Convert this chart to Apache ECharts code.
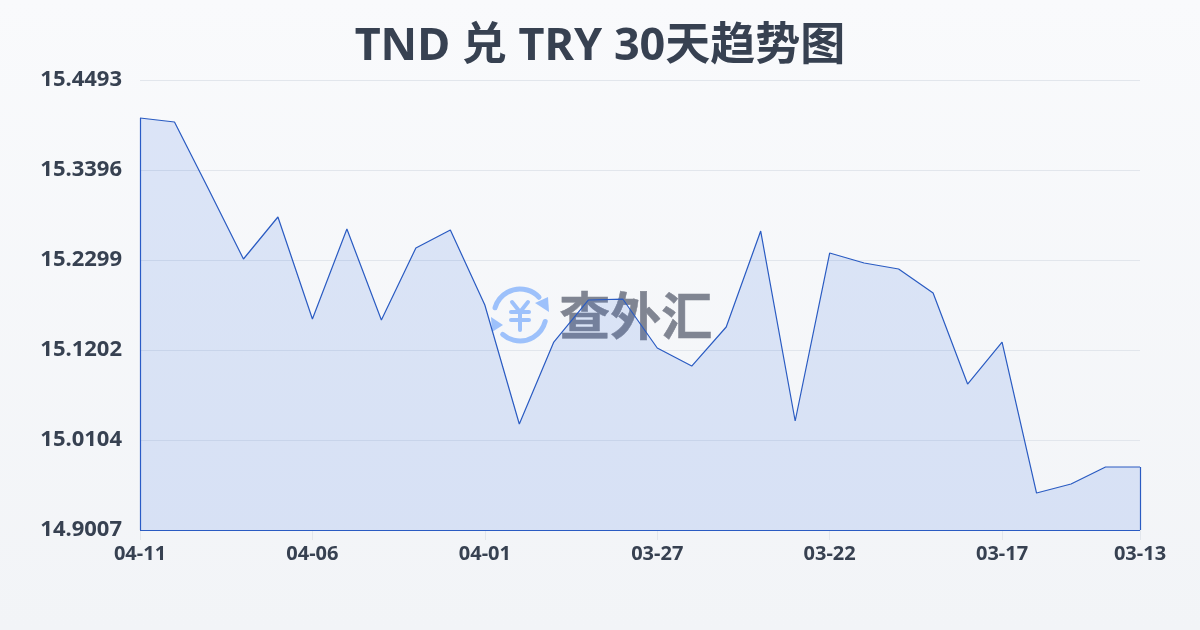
<!DOCTYPE html>
<html><head><meta charset="utf-8">
<style>html,body{margin:0;padding:0;background:#f5f7fa}#c{width:1200px;height:630px}</style>
<script src="https://cdn.jsdelivr.net/npm/echarts@6/dist/echarts.min.js"></script>
</head><body><div id="c"></div>
<script>
const titleText = 'TND 兑 TRY 30天趋势图';
const dates = ['04-11','04-10','04-09','04-08','04-07','04-06','04-05','04-04','04-03','04-02','04-01','03-31','03-30','03-29','03-28','03-27','03-26','03-25','03-24','03-23','03-22','03-21','03-20','03-19','03-18','03-17','03-16','03-15','03-14','03-13'];
const rates = [15.4030,15.3981,15.3152,15.2311,15.2823,15.1579,15.2677,15.1567,15.2445,15.2664,15.1750,15.0299,15.1299,15.1811,15.1823,15.1226,15.1006,15.1482,15.2652,15.0336,15.2384,15.2262,15.2189,15.1896,15.0787,15.1299,14.9458,14.9568,14.9775,14.9775];
const yMin = 14.90072, yMax = 15.44932, yInterval = 0.10972;
const labelIdx = [0,5,10,15,20,25,29];
const font = '"Noto Sans","Noto Sans CJK SC",sans-serif';
const textColor = '#374151';
const lineColor = '#2a5bc2';
const logoColor = '#9dc1fb';
const last = dates.length - 1;
const chart = echarts.init(document.getElementById('c'));
chart.setOption({
  animation:false,
  backgroundColor:{type:'linear',x:0,y:0,x2:0,y2:1,colorStops:[{offset:0,color:'#f9fafc'},{offset:1,color:'#f2f4f7'}]},
  title:{text:titleText,left:'center',top:20,textStyle:{fontFamily:font,fontSize:45,fontWeight:'bold',color:textColor}},
  grid:{left:140,right:60,top:80,bottom:100},
  xAxis:{type:'category',boundaryGap:false,data:dates,
    axisLine:{show:false},
    axisTick:{show:true,length:10,interval:(i)=>labelIdx.includes(i),lineStyle:{color:'#e2e6ec'}},
    axisLabel:{interval:(i)=>labelIdx.includes(i),showMinLabel:true,showMaxLabel:true,hideOverlap:false,margin:14,fontFamily:font,fontSize:20,fontWeight:'bold',color:textColor},
    splitLine:{show:false}},
  yAxis:{type:'value',min:yMin,max:yMax,interval:yInterval,
    axisLine:{show:false},axisTick:{show:false},
    axisLabel:{margin:18,fontFamily:font,fontSize:22,fontWeight:'bold',color:textColor,formatter:v=>v.toFixed(4)},
    splitLine:{lineStyle:{color:'#e2e6ec',width:1}}},
  graphic:{elements:[
    {type:'group',x:490,y:285,z:1,silent:true,children:[
      {type:'arc',shape:{cx:30,cy:30,r:26,startAngle:-2.86,endAngle:-0.75},style:{stroke:logoColor,lineWidth:5,fill:'none',lineCap:'round'}},
      {type:'arc',shape:{cx:30,cy:30,r:26,startAngle:0.25,endAngle:2.3},style:{stroke:logoColor,lineWidth:5,fill:'none',lineCap:'round'}},
      {type:'polygon',shape:{points:[[58,12],[59,27],[45,18]]},style:{fill:logoColor}},
      {type:'polygon',shape:{points:[[1,32],[2,47],[13,40]]},style:{fill:logoColor}},
      {type:'polyline',shape:{points:[[22,17],[30,27],[38,17]]},style:{stroke:logoColor,lineWidth:4,fill:'none',lineCap:'round'}},
      {type:'line',shape:{x1:21,y1:27,x2:39,y2:27},style:{stroke:logoColor,lineWidth:4,lineCap:'round'}},
      {type:'line',shape:{x1:21,y1:35,x2:39,y2:35},style:{stroke:logoColor,lineWidth:4,lineCap:'round'}},
      {type:'line',shape:{x1:30,y1:27,x2:30,y2:45},style:{stroke:logoColor,lineWidth:4,lineCap:'round'}}
    ]},
    {type:'text',left:559,top:290,z:1,silent:true,style:{text:'查外汇',fontFamily:'"Noto Sans CJK SC"',fontSize:51,fontWeight:'bold',fill:'#808592',stroke:'#808592',lineWidth:0.5}}
  ]},
  series:[{type:'line',data:rates,z:5,symbol:'none',smooth:false,
    lineStyle:{color:lineColor,width:1.2},
    areaStyle:{color:'rgba(37,99,225,0.135)',opacity:1,origin:'start'},
    markLine:{silent:true,symbol:'none',label:{show:false},lineStyle:{color:lineColor,width:1.2,type:'solid'},
      data:[
        [{xAxis:dates[0],yAxis:rates[0]},{xAxis:dates[0],yAxis:yMin}],
        [{xAxis:dates[0],yAxis:yMin},{xAxis:dates[last],yAxis:yMin}],
        [{xAxis:dates[last],yAxis:yMin},{xAxis:dates[last],yAxis:rates[last]}]
      ]}
  }]
});
</script></body></html>
